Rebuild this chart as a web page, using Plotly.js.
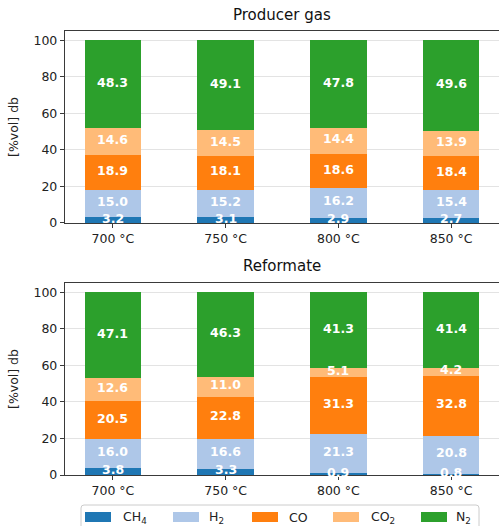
<!DOCTYPE html>
<html>
<head>
<meta charset="utf-8">
<script src="https://cdn.plot.ly/plotly-3.0.1.min.js"></script>
<style>html,body{margin:0;padding:0;background:#fff;}#chart{width:499px;height:526px;}</style>
</head>
<body>
<div id="chart"></div>
<script>
const categories = ["700 °C", "750 °C", "800 °C", "850 °C"];
const gasNames = ["CH<sub>4</sub>", "H<sub>2</sub>", "CO", "CO<sub>2</sub>", "N<sub>2</sub>"];
const gasColors = ["#1f77b4", "#aec7e8", "#ff7f0e", "#ffbb78", "#2ca02c"];

// Producer gas composition [%vol] db
const producerCH4 = [3.2, 3.1, 2.9, 2.7];
const producerH2  = [15.0, 15.2, 16.2, 15.4];
const producerCO  = [18.9, 18.1, 18.6, 18.4];
const producerCO2 = [14.6, 14.5, 14.4, 13.9];
const producerN2  = [48.3, 49.1, 47.8, 49.6];

// Reformate composition [%vol] db
const reformateCH4 = [3.8, 3.3, 0.9, 0.8];
const reformateH2  = [16.0, 16.6, 21.3, 20.8];
const reformateCO  = [20.5, 22.8, 31.3, 32.8];
const reformateCO2 = [12.6, 11.0, 5.1, 4.2];
const reformateN2  = [47.1, 46.3, 41.3, 41.4];

const yTicks = [0, 20, 40, 60, 80, 100];
const panelTitles = ["Producer gas", "Reformate"];

const FONT = "DejaVu Sans, Liberation Sans, sans-serif";
const producerSeries = [producerCH4, producerH2, producerCO, producerCO2, producerN2];
const reformateSeries = [reformateCH4, reformateH2, reformateCO, reformateCO2, reformateN2];

const traces = [];
const annotations = [];
function addPanel(series, xa, ya) {
  const base = categories.map(() => 0);
  series.forEach((vals, i) => {
    traces.push({
      type: "bar",
      x: categories,
      y: vals,
      xaxis: xa,
      yaxis: ya,
      name: gasNames[i],
      showlegend: false,
      marker: { color: gasColors[i], line: { width: 0 } },
      textposition: "none",
      hoverinfo: "skip"
    });
    // value labels, centred in each stacked segment (placed through the data axes)
    vals.forEach((v, j) => {
      annotations.push({
        xref: xa, yref: ya,
        x: categories[j], y: base[j] + v / 2,
        text: v.toFixed(1),
        showarrow: false, xanchor: "center", yanchor: "middle", yshift: 2,
        font: { family: FONT, size: 12.5, color: "#ffffff", weight: "bold" }
      });
      base[j] += v;
    });
  });
}
addPanel(producerSeries, "x", "y");
addPanel(reformateSeries, "x2", "y2");

const xBase = {
  type: "category",
  range: [-0.425, 3.425],
  showline: true, linecolor: "#3a3a3a", linewidth: 1.2, mirror: true,
  ticks: "outside", ticklen: 4, tickwidth: 1, tickcolor: "#3a3a3a",
  tickfont: { family: FONT, size: 12.5, color: "#222" },
  showgrid: false, zeroline: false, fixedrange: true
};
const yBase = {
  range: [0, 105],
  tickvals: yTicks,
  showline: true, linecolor: "#3a3a3a", linewidth: 1.2, mirror: true,
  ticks: "outside", ticklen: 4, tickwidth: 1, tickcolor: "#3a3a3a",
  tickfont: { family: FONT, size: 12.5, color: "#222" },
  showgrid: true, gridcolor: "#e3e3e3", gridwidth: 1.2,
  zeroline: false, fixedrange: true,
  title: { text: "[%vol] db", font: { family: FONT, size: 12.5, color: "#222" }, standoff: 12 }
};

// pixel -> paper helpers for the hand-built legend (plot area: x 65..499, y 31..475)
const PX0 = 65, PW = 434, PYB = 475, PH = 444;
const px = v => (v - PX0) / PW;
const py = v => (PYB - v) / PH;

const legendPatchX = [85, 173, 252, 333, 421];
const legendTextX = [122, 208, 288, 370, 455];
const shapes = [];
annotations.push(
  { text: panelTitles[0], xref: "paper", yref: "paper", x: 0.5, y: 1.036, xanchor: "center", yanchor: "middle", showarrow: false, font: { family: FONT, size: 15, color: "#111" } },
  { text: panelTitles[1], xref: "paper", yref: "paper", x: 0.5, y: 0.4707, xanchor: "center", yanchor: "middle", showarrow: false, font: { family: FONT, size: 15, color: "#111" } }
);
// legend frame
shapes.push({
  type: "path", xref: "paper", yref: "paper",
  path: `M ${px(81)},${py(540)} L ${px(81)},${py(508)} Q ${px(81)},${py(505)} ${px(84)},${py(505)} L ${px(476)},${py(505)} Q ${px(479)},${py(505)} ${px(479)},${py(508)} L ${px(479)},${py(540)} Z`,
  line: { color: "#cccccc", width: 1 }, fillcolor: "rgba(255,255,255,0.8)", layer: "above"
});
gasNames.forEach((n, i) => {
  shapes.push({
    type: "rect", xref: "paper", yref: "paper",
    x0: px(legendPatchX[i]), x1: px(legendPatchX[i] + 26),
    y0: py(522), y1: py(512),
    fillcolor: gasColors[i], line: { width: 0 }, layer: "above"
  });
  annotations.push({
    text: n, xref: "paper", yref: "paper",
    x: px(legendTextX[i] - 1), y: py(517), xanchor: "left", yanchor: "middle",
    showarrow: false, font: { family: FONT, size: 12.5, color: "#222" }
  });
});

const layout = {
  width: 499, height: 526,
  margin: { l: 65, r: 0, t: 31, b: 51, pad: 0 },
  paper_bgcolor: "#ffffff", plot_bgcolor: "#ffffff",
  barmode: "stack", bargap: 0.5,
  font: { family: FONT, color: "#222" },
  showlegend: false,
  xaxis: Object.assign({}, xBase, { anchor: "y", domain: [0, 1] }),
  yaxis: Object.assign({}, yBase, { anchor: "x", domain: [0.5676, 1] }),
  xaxis2: Object.assign({}, xBase, { anchor: "y2", domain: [0, 1] }),
  yaxis2: Object.assign({}, yBase, { anchor: "x2", domain: [0, 0.4324] }),
  shapes: shapes,
  annotations: annotations
};

Plotly.newPlot("chart", traces, layout, { displayModeBar: false, staticPlot: true });
</script>
</body>
</html>
